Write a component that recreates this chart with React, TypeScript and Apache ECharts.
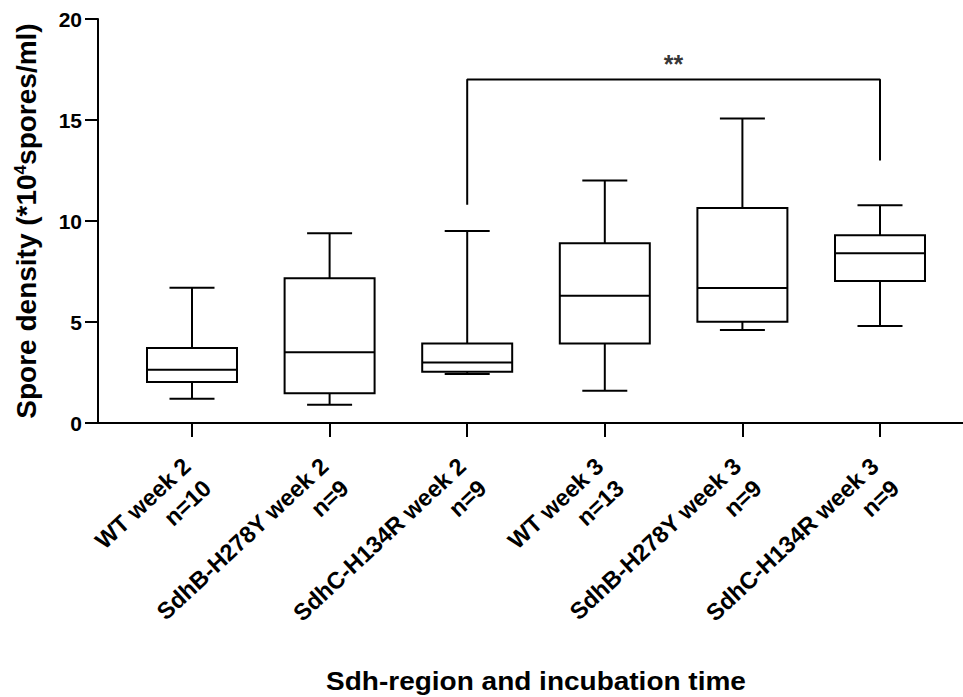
import React, { useEffect, useRef } from "react";
import * as echarts from "echarts";

const categories = [
  "WT week 2",
  "SdhB-H278Y week 2",
  "SdhC-H134R week 2",
  "WT week 3",
  "SdhB-H278Y week 3",
  "SdhC-H134R week 3",
];
const sampleSizes = ["n=10", "n=9", "n=9", "n=13", "n=9", "n=9"];
const minVals = [1.2, 0.9, 2.43, 1.6, 4.6, 4.8];
const q1Vals = [2.03, 1.47, 2.54, 3.94, 5.01, 7.03];
const medianVals = [2.64, 3.5, 3.0, 6.3, 6.68, 8.4];
const q3Vals = [3.71, 7.16, 3.94, 8.9, 10.64, 9.29];
const maxVals = [6.7, 9.39, 9.5, 12.0, 15.08, 10.78];
const yTicks = [0, 5, 10, 15, 20];
const bracketFrom = 2;
const bracketTo = 5;
const bracketTop = 17;
const bracketLegBottoms = [10.8, 13];
const bracketLabel = "**";

const FONT = "'Liberation Sans', Arial, Helvetica, sans-serif";

export default function App() {
  const ref = useRef<HTMLDivElement>(null);
  useEffect(() => {
    if (!ref.current) return;
    const chart = echarts.init(ref.current, null, { renderer: "svg" });
    const boxData = categories.map((_, i) => [
      i,
      minVals[i],
      q1Vals[i],
      medianVals[i],
      q3Vals[i],
      maxVals[i],
    ]);
    const black = "#000";
    const option: any = {
      animation: false,
      backgroundColor: "#fff",
      grid: [
        { left: 123.2, right: 14.2, top: 19, bottom: 274 },
        { left: 98, right: 0, top: 19, bottom: 274 },
      ],
      xAxis: [
        {
          type: "category",
          gridIndex: 0,
          data: categories,
          axisLine: { show: false },
          axisTick: {
            show: true,
            alignWithLabel: true,
            length: 14,
            lineStyle: { color: black, width: 2 },
          },
          axisLabel: {
            interval: 0,
            rotate: 43,
            margin: 45,
            align: "right",
            padding: [15, 0, 0, 0],
            formatter: (v: string, idx: number) =>
              `{a|${v}}\n{a|${sampleSizes[idx]}}`,
            rich: {
              a: {
                align: "right",
                fontFamily: FONT,
                fontWeight: "bold",
                fontSize: 23.5,
                lineHeight: 30,
                color: black,
              },
            },
          },
          splitLine: { show: false },
        },
        {
          type: "value",
          gridIndex: 1,
          min: 0,
          max: 1,
          axisLine: { show: true, onZero: false, lineStyle: { color: black, width: 2 } },
          axisTick: { show: false },
          axisLabel: { show: false },
          splitLine: { show: false },
        },
        {
          type: "value",
          gridIndex: 0,
          min: -0.5,
          max: 5.5,
          show: false,
        },
      ],
      yAxis: [
        {
          type: "value",
          gridIndex: 0,
          min: yTicks[0],
          max: yTicks[yTicks.length - 1],
          interval: yTicks[1] - yTicks[0],
          offset: 25.2,
          axisLine: { show: true, onZero: false, lineStyle: { color: black, width: 2 } },
          axisTick: { show: true, length: 13, lineStyle: { color: black, width: 2 } },
          axisLabel: {
            margin: 16,
            fontFamily: FONT,
            fontWeight: "bold",
            fontSize: 21,
            color: black,
          },
          splitLine: { show: false },
          name: "{a|Spore density (*10}{s|4}{a|spores/ml)}",
          nameLocation: "middle",
          nameRotate: 90,
          nameGap: 58,
          nameTextStyle: {
            rich: {
              a: {
                fontFamily: FONT,
                fontWeight: "bold",
                fontSize: 28,
                color: black,
              },
              s: {
                fontFamily: FONT,
                fontWeight: "bold",
                fontSize: 17,
                color: black,
                verticalAlign: "top",
              },
            },
          },
        },
        {
          type: "value",
          gridIndex: 1,
          min: 0,
          max: 20,
          show: false,
        },
      ],
      series: [
        {
          type: "custom",
          xAxisIndex: 0,
          yAxisIndex: 0,
          data: boxData,
          encode: { x: 0, y: [1, 2, 3, 4, 5] },
          renderItem: (params: any, api: any) => {
            const i = api.value(0);
            const bw = api.size([1, 0])[0] * 0.654;
            const cx = api.coord([i, 0])[0];
            const yMin = api.coord([i, api.value(1)])[1];
            const yQ1 = api.coord([i, api.value(2)])[1];
            const yMed = api.coord([i, api.value(3)])[1];
            const yQ3 = api.coord([i, api.value(4)])[1];
            const yMax = api.coord([i, api.value(5)])[1];
            const half = bw / 2;
            const cap = bw / 4;
            const ls = { stroke: black, lineWidth: 2 };
            return {
              type: "group",
              children: [
                { type: "line", shape: { x1: cx, y1: yMax, x2: cx, y2: yQ3 }, style: ls },
                { type: "line", shape: { x1: cx, y1: yQ1, x2: cx, y2: yMin }, style: ls },
                { type: "line", shape: { x1: cx - cap, y1: yMax, x2: cx + cap, y2: yMax }, style: ls },
                { type: "line", shape: { x1: cx - cap, y1: yMin, x2: cx + cap, y2: yMin }, style: ls },
                {
                  type: "rect",
                  shape: { x: cx - half, y: yQ3, width: bw, height: yQ1 - yQ3 },
                  style: { fill: "#fff", stroke: black, lineWidth: 2 },
                },
                { type: "line", shape: { x1: cx - half, y1: yMed, x2: cx + half, y2: yMed }, style: ls },
              ],
            };
          },
        },
        {
          type: "line",
          xAxisIndex: 2,
          yAxisIndex: 0,
          data: [
            [bracketFrom, bracketLegBottoms[0]],
            [bracketFrom, bracketTop],
            [bracketTo, bracketTop],
            [bracketTo, bracketLegBottoms[1]],
          ],
          symbol: "none",
          lineStyle: { color: black, width: 2 },
          silent: true,
        },
        {
          type: "scatter",
          xAxisIndex: 2,
          yAxisIndex: 0,
          data: [[(bracketFrom + bracketTo) / 2, bracketTop]],
          symbolSize: 1,
          itemStyle: { color: "rgba(0,0,0,0)" },
          label: {
            show: true,
            position: "top",
            distance: 3,
            formatter: bracketLabel,
            fontFamily: FONT,
            fontWeight: "bold",
            fontSize: 25,
            color: black,
          },
          silent: true,
        },
      ],
      graphic: [
        {
          type: "text",
          x: 536,
          y: 682,
          scaleX: 1.12,
          style: {
            text: "Sdh-region and incubation time",
            textAlign: "center",
            textVerticalAlign: "middle",
            fontFamily: FONT,
            fontWeight: "bold",
            fontSize: 25,
            fill: black,
          },
        },
      ],
    };
    chart.setOption(option);
    return () => chart.dispose();
  }, []);
  return (
    <div
      ref={ref}
      style={{ position: "absolute", left: 0, top: 0, width: 963, height: 697 }}
    />
  );
}
